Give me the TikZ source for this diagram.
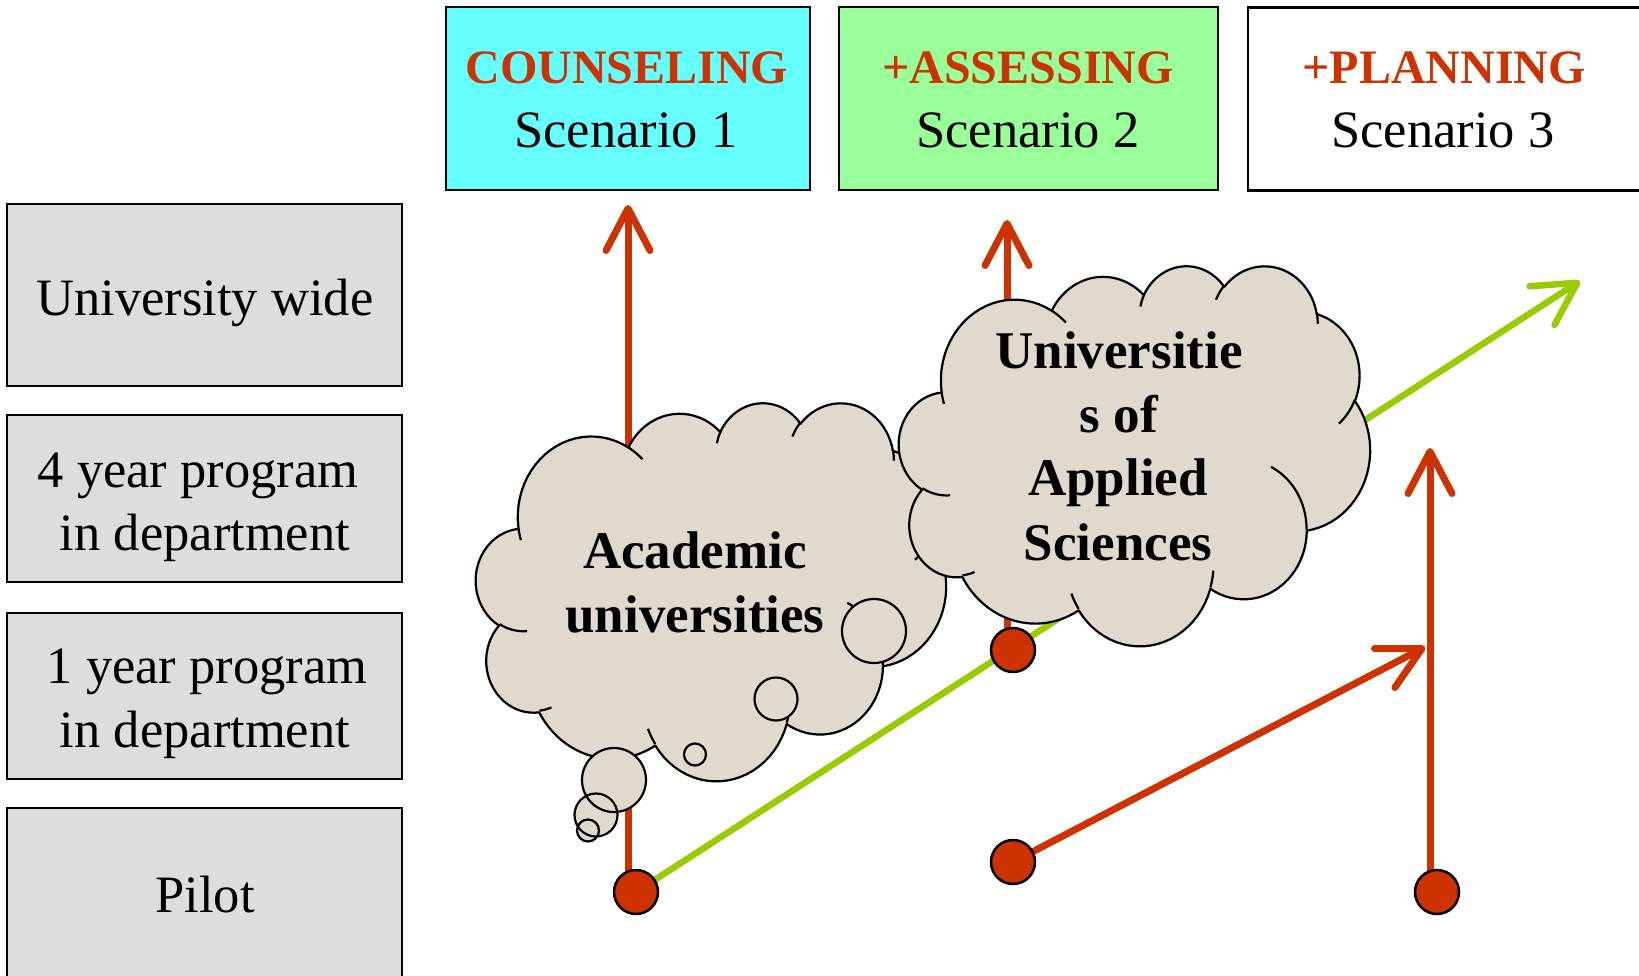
\documentclass[tikz,border=0pt]{standalone}
\usepackage{fontspec}
\setmainfont{Liberation Serif}
\usetikzlibrary{arrows.meta}
\definecolor{ared}{HTML}{CC3300}
\definecolor{agreen}{HTML}{99CC00}
\definecolor{boxcyan}{HTML}{66FFFF}
\definecolor{boxgreen}{HTML}{99FF99}
\definecolor{boxgray}{HTML}{DDDDDD}
\definecolor{cloudfill}{RGB}{224,217,206}

% --- cloud path builder (OOXML cloud geometry, 432 x 432 units) ---
\gdef\CLpts{}
\newcommand\CLmove[2]{\xdef\cpx{#1}\xdef\cpy{#2}\xdef\CLpts{\CLpts\space(#1,#2)}}
\newcommand\CLarc[4]{%
  \pgfmathsetmacro\CLts{atan2(#1*sin(#3),#2*cos(#3))}%
  \pgfmathsetmacro\CLte{atan2(#1*sin(#3+#4),#2*cos(#3+#4))}%
  \pgfmathsetmacro\CLd{\CLte-\CLts}%
  \pgfmathsetmacro\CLd{\CLd-360*round((\CLd-(#4))/360)}%
  \pgfmathsetmacro\CLcx{\cpx-#1*cos(\CLts)}%
  \pgfmathsetmacro\CLcy{\cpy-#2*sin(\CLts)}%
  \foreach \k in {1,...,24}{%
    \pgfmathsetmacro\CLt{\CLts+\CLd*\k/24}%
    \pgfmathsetmacro\CLx{\CLcx+#1*cos(\CLt)}%
    \pgfmathsetmacro\CLy{\CLcy+#2*sin(\CLt)}%
    \xdef\CLpts{\CLpts\space-- (\CLx,\CLy)}%
  }%
  \pgfmathsetmacro\CLx{\CLcx+#1*cos(\CLts+\CLd)}%
  \pgfmathsetmacro\CLy{\CLcy+#2*sin(\CLts+\CLd)}%
  \xdef\cpx{\CLx}\xdef\cpy{\CLy}%
}
\newcommand\drawcloud[4]{%
  \begin{scope}[shift={(#1,#2)},xscale=#3/432,yscale=#4/432]
    \edef\CLtmp{\noexpand\path[cloudbody] \CLouter\space-- cycle;}\CLtmp
    \edef\CLtmp{\noexpand\path[cloudline] \CLinner;}\CLtmp
  \end{scope}}

\begin{document}
\begin{tikzpicture}[x=1pt,y=-1pt,
  lbox/.style={draw=black, line width=2.5pt, fill=boxgray, minimum width=395pt, inner sep=0pt},
  tbox/.style={draw=black, line width=2.5pt, minimum height=183pt, inner sep=0pt},
  txt/.style={font=\fontsize{52.5}{63}\selectfont, inner sep=0pt, anchor=base},
  head/.style={font=\fontsize{48}{58}\selectfont\bfseries, text=ared, inner sep=0pt, anchor=base},
  ctxt/.style={font=\fontsize{53}{64}\selectfont\bfseries, inner sep=0pt, anchor=base},
  redarrow/.style={draw=ared, line width=7pt, -{Straight Barb[length=42pt,width=44pt,round]}},
  greenarrow/.style={draw=agreen, line width=6.5pt, -{Straight Barb[length=42pt,width=46pt,round]}},
  dot/.style={circle, fill=ared, draw=black, line width=2.5pt, minimum size=44pt, inner sep=0pt},
  cloudbody/.style={fill=cloudfill, draw=black, line width=2.2pt, line join=round},
  cloudline/.style={draw=black, line width=2.2pt},
  tail/.style={fill=cloudfill, draw=black, line width=2.2pt}]

\useasboundingbox[fill=white] (0,0) rectangle (1639,975);

% build cloud geometry
\gdef\CLpts{}
\CLmove{39}{143.7}
\CLarc{67.53}{91.90}{-190.4875}{123.7805}
\CLarc{53.33}{72.67}{-144.1024}{89.9452}
\CLarc{43.65}{59.45}{-145.8079}{99.7230}
\CLarc{48.57}{65.95}{-130.9861}{117.2417}
\CLarc{53.33}{72.73}{-78.7089}{109.0269}
\CLarc{67.75}{92.20}{-46.2673}{130.2690}
\CLarc{57.85}{78.67}{0.6250}{114.0333}
\CLarc{67.52}{92.15}{22.4516}{115.1726}
\CLarc{77.20}{105.43}{66.2426}{75.7110}
\CLarc{43.60}{59.18}{-274.9421}{146.7356}
\CLarc{43.45}{59.45}{-246.8285}{152.5189}
\global\let\CLouter\CLpts
\gdef\CLpts{}
\CLmove{46.93}{261.77}\CLarc{43.45}{59.45}{86.7420}{26.4295}
\CLmove{69.28}{348.99}\CLarc{43.60}{59.18}{73.6105}{11.4475}
\CLmove{164.78}{390.90}\CLarc{67.52}{92.15}{137.6242}{14.0811}
\CLmove{288.27}{347.51}\CLarc{67.52}{92.15}{6.4533}{15.9984}
\CLmove{341.29}{229.54}\CLarc{57.85}{78.67}{-70.2924}{70.9174}
\CLmove{417.98}{153.54}\CLarc{53.33}{72.73}{30.3180}{27.7515}
\CLmove{383.24}{54.26}\CLarc{48.57}{65.95}{-13.7443}{14.8538}
\CLmove{290.78}{39.52}\CLarc{48.57}{65.95}{-149.1815}{18.1954}
\CLmove{221.41}{47.20}\CLarc{43.65}{59.45}{-163.4943}{17.6864}
\CLmove{140.00}{51.92}\CLarc{67.53}{91.90}{-66.7070}{12.3194}
\CLmove{41.27}{157.89}\CLarc{67.53}{91.90}{157.6544}{11.8582}
\global\let\CLinner\CLpts

% top scenario boxes
\node[tbox, fill=boxcyan, minimum width=364pt] (b1) at (628,98.5) {};
\node[tbox, fill=boxgreen, minimum width=379pt] (b2) at (1028.5,98.5) {};
\node[tbox, fill=white, minimum width=394pt] (b3) at (1445,99) {};
\node[head] (h1) at (627,83) {COUNSELING};
\node[txt] (s1) at (626,147) {Scenario 1};
\node[head] (h2) at (1028,83) {+ASSESSING};
\node[txt] (s2) at (1028,147) {Scenario 2};
\node[head] (h3) at (1444,83) {+PLANNING};
\node[txt] (s3) at (1443,147) {Scenario 3};

% left level boxes
\node[lbox, minimum height=182pt] (l1) at (204.5,295) {};
\node[lbox, minimum height=167pt] (l2) at (204.5,498.5) {};
\node[lbox, minimum height=166pt] (l3) at (204.5,696) {};
\node[lbox, minimum height=172pt] (l4) at (204.5,894) {};
\node[txt] (l1a) at (205,315) {University wide};
\node[txt] (l2a) at (198,487) {4 year program};
\node[txt] (l2b) at (205,550) {in department};
\node[txt] (l3a) at (207,683) {1 year program};
\node[txt] (l3b) at (205,747) {in department};
\node[txt] (l4a) at (205,912) {Pilot};

% dots and arrow ends
\coordinate (t1) at (628,205);
\coordinate (t2) at (1007,220);
\coordinate (t3) at (1430,448);
\coordinate (t4) at (1425,647);
\coordinate (gt) at (1580,281);
\path (636,892) coordinate (pA) (1013,650) coordinate (pB)
      (1013,862) coordinate (pC) (1437,892) coordinate (pD);

% connectors
\draw[redarrow] (t1 |- pA) -- (t1);
\draw[redarrow] (t2 |- pB) -- (t2);
\draw[greenarrow] (pA) -- (gt);
\draw[redarrow] (pC) -- (t4);
\draw[redarrow] (t3 |- pD) -- (t3);

% clouds
\drawcloud{476}{402}{470}{378}
\filldraw[tail] (614,780) circle[radius=32] (596,815) circle[radius=21.5] (588,830.5) circle[radius=11];
\drawcloud{899}{265}{471}{380}
\filldraw[tail] (874,631) circle[radius=32] (776,699) circle[radius=21.5] (695,754.5) circle[radius=11];

\node[ctxt] (c1a) at (695,568) {Academic};
\node[ctxt] (c1b) at (695,632) {universities};
\node[ctxt] (c2a) at (1119,368) {Universitie};
\node[ctxt] (c2b) at (1119,432) {s of};
\node[ctxt] (c2c) at (1118,495) {Applied};
\node[ctxt] (c2d) at (1118,560) {Sciences};

% dots on top
\node[dot] (dA) at (pA) {};
\node[dot] (dB) at (pB) {};
\node[dot] (dC) at (pC) {};
\node[dot] (dD) at (pD) {};
\end{tikzpicture}
\end{document}
